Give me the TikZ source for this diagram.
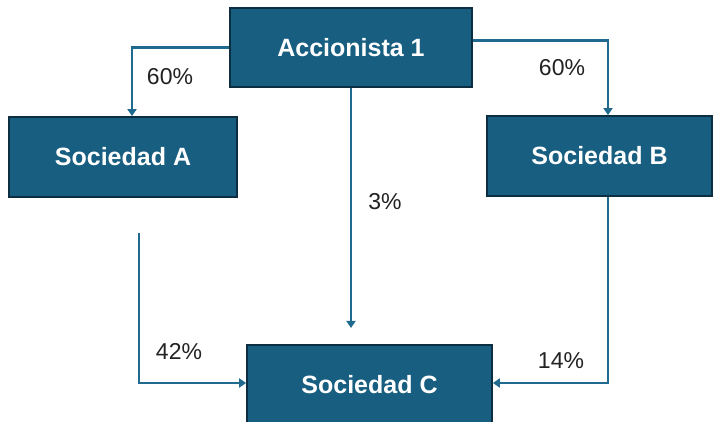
\documentclass[tikz,border=0pt]{standalone}
\usepackage{fontspec}
\setmainfont{Liberation Sans}
\usetikzlibrary{arrows.meta}
\definecolor{boxfill}{HTML}{175E80}
\definecolor{boxline}{HTML}{0C2E40}
\definecolor{conn}{HTML}{1F6A8E}
\definecolor{lbl}{HTML}{222222}
\begin{document}
\begin{tikzpicture}[x=1pt,y=-1pt,
  entity/.style={draw=boxline,line width=1.8pt,fill=boxfill,text=white,font=\fontsize{25}{28}\selectfont\bfseries,inner sep=0pt},
  conn/.style={draw=conn,line width=2.3pt,-{Triangle[length=7pt,width=9pt]}},
  pct/.style={text=lbl,font=\fontsize{23}{26}\selectfont,inner sep=0pt}]
\useasboundingbox (0,0) rectangle (721,422);
\fill[white] (0,0) rectangle (721,422);
\node[entity,minimum width=242pt,minimum height=79pt] (acc) at (351,47.5) {Accionista 1};
\node[entity,minimum width=228pt,minimum height=80pt] (sa) at (123,157) {Sociedad A};
\node[entity,minimum width=225pt,minimum height=80pt] (sb) at (599.5,156) {Sociedad B};
\node[entity,minimum width=245pt,minimum height=80pt] (sc) at (369.5,385) {Sociedad C};
\coordinate (c3) at (351,328);
\coordinate (as) at (139,233);
\draw[conn] (acc.west) -| ([xshift=9pt]sa.north);
\draw[conn] ([yshift=7pt]acc.east) -| ([xshift=8.5pt]sb.north);
\draw[conn] (acc.south) -- (c3);
\draw[conn] (as) |- ([yshift=2pt]sc.west);
\draw[conn] ([xshift=8.5pt]sb.south) |- ([yshift=2pt]sc.east);
\node[pct] (p1) at (170,77) {60\%};
\node[pct] (p2) at (562,68) {60\%};
\node[pct] (p3) at (385,202) {3\%};
\node[pct] (p4) at (179,352) {42\%};
\node[pct] (p5) at (561,361) {14\%};
\end{tikzpicture}
\end{document}
